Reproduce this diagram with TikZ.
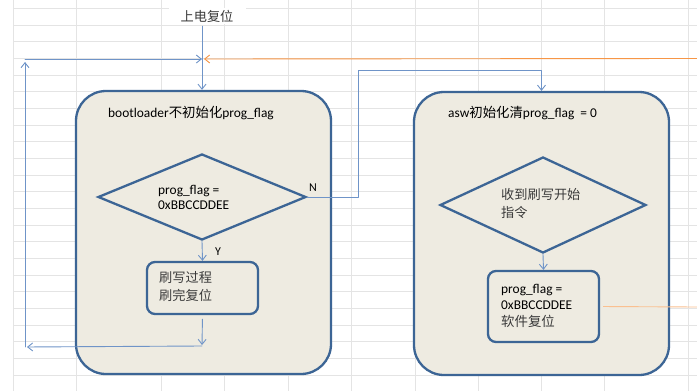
\documentclass[tikz,border=0pt]{standalone}
\usepackage{fontspec}
\setmainfont{Carlito}
\newfontfamily\cjk{Noto Sans CJK SC}
\usetikzlibrary{arrows.meta, shapes.geometric, positioning}
\definecolor{gridln}{HTML}{E4E4E4}
\definecolor{bbord}{HTML}{3C6595}
\definecolor{bfill}{HTML}{EEEBE1}
\definecolor{wire}{HTML}{6F94C8}
\definecolor{worng}{HTML}{F79646}
\definecolor{ctext}{HTML}{3A3A3A}
\tikzset{
  bigbox/.style={draw=bbord, fill=bfill, line width=2.3pt, rounded corners=30pt, minimum width=255pt, minimum height=283pt, inner sep=0pt},
  smallbox/.style={draw=bbord, fill=bfill, line width=2.3pt, rounded corners=8pt, minimum width=111pt, inner sep=0pt},
  decide/.style={diamond, draw=bbord, fill=bfill, line width=2.3pt, inner sep=0pt},
  txt/.style={inner sep=0pt, align=left, font=\fontsize{13.4}{15.5}\selectfont},
  cjktxt/.style={txt, text=ctext, font=\cjk\fontsize{13.2}{18}\selectfont},
  wireln/.style={draw=wire, line width=0.9pt, line cap=round, line join=round, -{Straight Barb[length=5pt,width=8pt]}}
}

\begin{document}
\begin{tikzpicture}[x=1pt, y=-1pt]
  \useasboundingbox (0,0) rectangle (697,391);
  \fill[white] (0,0) rectangle (697,391);
  % sheet grid
  \foreach \k in {0,...,23} \draw[gridln, line width=0.6pt] (13,{8.3+16.67*\k}) -- (697,{8.3+16.67*\k});
  \foreach \gx in {13,76,161,224,288,351,415,478,541,604,688} \draw[gridln, line width=0.6pt] (\gx,0) -- (\gx,391);

  % boxes
  \node[cjktxt, fill=white, minimum width=77pt, minimum height=16pt] (power) at (207,16) {上电复位};
  \node[bigbox] (boot) at (203.5,232.5) {};
  \node[bigbox] (asw) at (541.5,233.5) {};
  \node[txt, anchor=west] (boottitle) at (108,113) {bootloader{\cjk 不初始化}prog\_flag};
  \node[txt, anchor=west] (aswtitle) at (448,113) {asw{\cjk 初始化清}prog\_flag~ = 0};

  \node[decide, minimum width=208pt, minimum height=86pt] (dflag) at (202,197) {};
  \node[txt, anchor=west] (flagtxt) at (158,197.5) {prog\_flag =\\0xBBCCDDEE};
  \node[decide, minimum width=206pt, minimum height=96pt] (dcmd) at (543,205) {};
  \node[cjktxt, anchor=west] (cmdtxt) at (501,204) {收到刷写开始\\指令};

  \node[smallbox, minimum height=52pt] (proc) at (202.5,288) {};
  \node[cjktxt, anchor=west] (proctxt) at (159,287) {刷写过程\\刷完复位};
  \node[smallbox, minimum height=71pt] (setf) at (543.5,306.5) {};
  \node[txt, anchor=west, font=\fontsize{13.4}{16.5}\selectfont] (setftxt) at (501,305.5) {prog\_flag =\\0xBBCCDDEE\\{\cjk\color{ctext}软件复位}};

  \node[txt, font=\fontsize{12}{14}\selectfont] (nlbl) at (313,188) {N};
  \node[txt, font=\fontsize{12}{14}\selectfont] (ylbl) at (218,252) {Y};

  % connectors
  \coordinate (join) at (202,59);
  \coordinate (lt) at (25,59);
  \coordinate (lb) at (25,347);
  \coordinate (ret) at (202,346);
  \coordinate (nturn) at (358,70);
  \coordinate (orr) at (697,58.5);
  \coordinate (orb) at (697,307);
  \draw[wireln, shorten <=2pt] (power.south -| join) -- (join |- boot.north);
  \draw[wireln] (lt) -- (join);
  \draw[wireln, draw=worng, shorten >=2pt] (orr) -- (join);
  \draw[wireln, shorten >=3pt] (lb) -- (lt);
  \draw[wireln] (dflag.south) -- (proc.north);
  \draw[wireln, shorten <=4pt, shorten >=1pt] (proc.south) -- (ret);
  \draw[wireln, shorten >=2pt] (ret) -- (lb);
  \draw[wireln] (dflag.east) -| (nturn) -| (asw.north);
  \draw[wireln] (dcmd.south) -- (setf.north);
  \draw[draw=worng!60, line width=0.9pt, shorten <=3pt] (setf.east) -- (orb);
\end{tikzpicture}
\end{document}
